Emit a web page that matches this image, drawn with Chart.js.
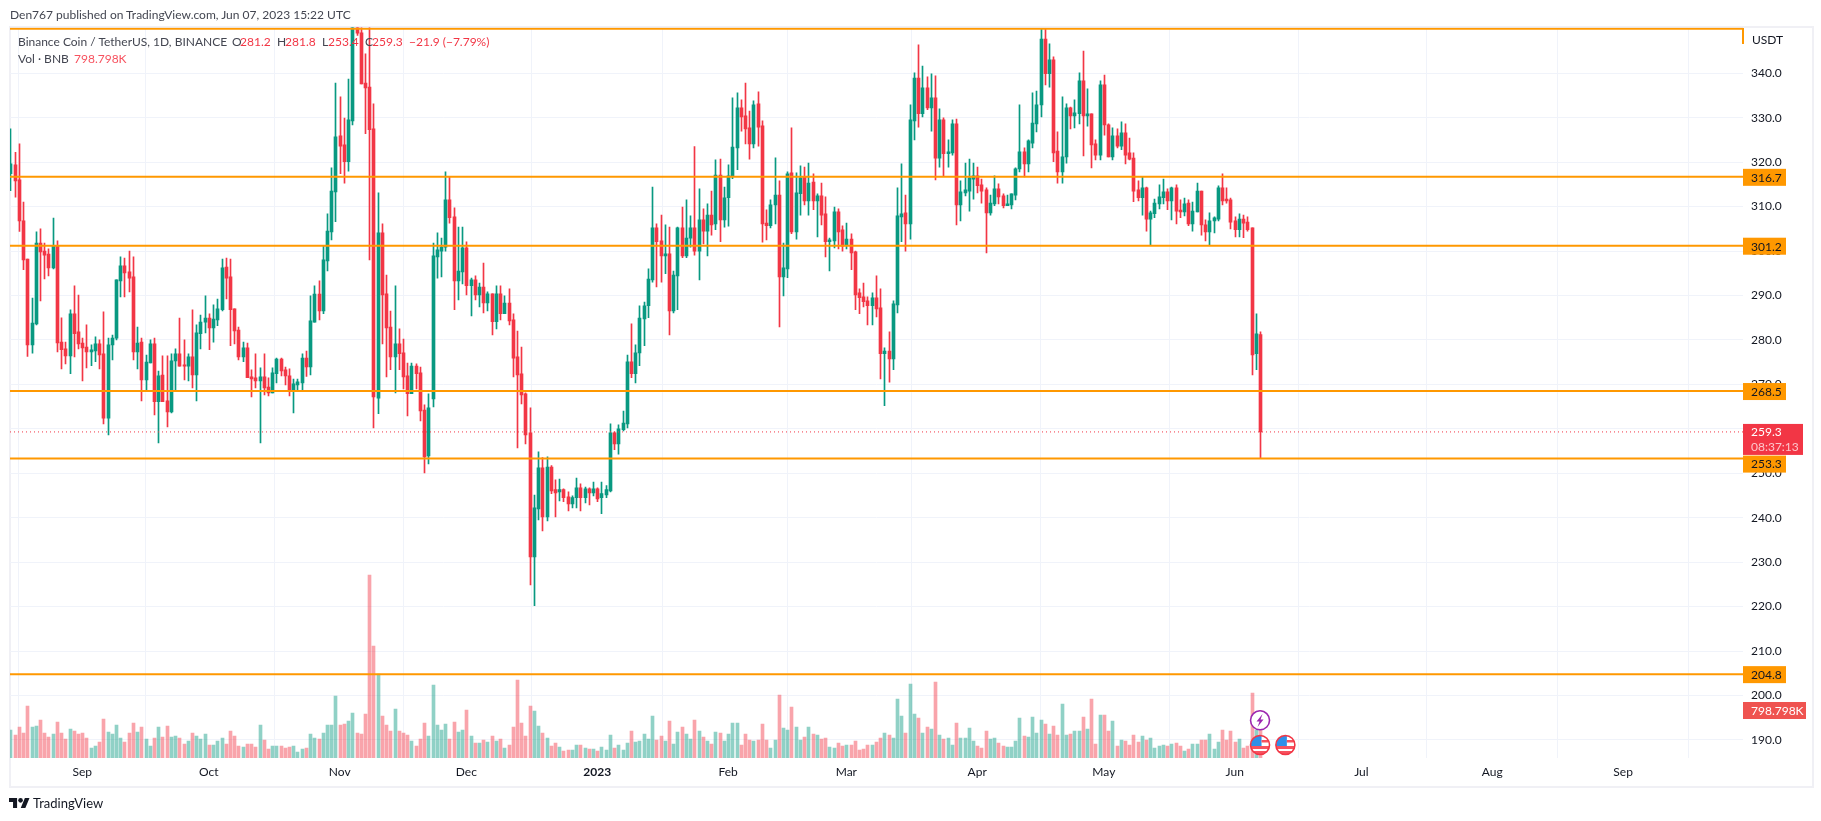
<!DOCTYPE html>
<html><head><meta charset="utf-8">
<script src="https://cdn.jsdelivr.net/npm/chart.js@4/dist/chart.umd.min.js"></script>
<style>
html,body{margin:0;padding:0;background:#fff;overflow:hidden;width:1821px;height:821px}
#c{position:absolute;left:0;top:0}
#frame{position:absolute;left:9px;top:26px;width:1801px;height:758px;border:2px solid #f0f0f5}
.t{position:absolute;white-space:pre;font-family:"Lato","Noto Sans",sans-serif;font-size:12px;line-height:16px;color:#434651}
.r{color:#F23645}
</style></head><body>
<div id="frame"></div>
<canvas id="c" width="1821" height="821"></canvas>
<div class="t" style="left:10px;top:7px">Den767 published on TradingView.com, Jun 07, 2023 15:22 UTC</div>
<div class="t" style="left:18px;top:34px">Binance Coin / TetherUS, 1D, BINANCE</div>
<div class="t" style="left:232px;top:34px">O</div><div class="t r" style="left:240px;top:34px">281.2</div>
<div class="t" style="left:277px;top:34px">H</div><div class="t r" style="left:285px;top:34px">281.8</div>
<div class="t" style="left:322px;top:34px">L</div><div class="t r" style="left:328px;top:34px">253.4</div>
<div class="t" style="left:365px;top:34px">C</div><div class="t r" style="left:372px;top:34px">259.3</div>
<div class="t r" style="left:409px;top:34px">−21.9 (−7.79%)</div>
<div class="t" style="left:18px;top:51px">Vol · BNB</div><div class="t" style="left:74px;top:51px;color:#F7525F">798.798K</div>
<div class="t" style="left:1752px;top:32px;color:#131722">USDT</div>
<svg style="position:absolute;left:9px;top:797.5px" width="20.5" height="10.5" viewBox="0 4 35.5 18"><path fill="#131722" d="M14 22H7V11H0V4h14v18zM28 22h-8l7.5-18h8L28 22z"/><circle fill="#131722" cx="20" cy="8" r="4"/></svg>
<div class="t" style="left:33px;top:795px;font-size:13px;color:#131722">TradingView</div>
<script>
const monthLabels=['Sep','Oct','Nov','Dec','2023','Feb','Mar','Apr','May','Jun','Jul','Aug','Sep'];
const monthIndex=[17,47,78,108,139,170,198,229,259,290,320,351,382];
const levels=[350,316.7,301.2,268.5,253.3,204.8];
const labelledLevels=[316.7,301.2,268.5,253.3,204.8];
const lastPrice=259.3;
const lastVolume=798.798;
const opens=[317.4,319.4,316.0,306.8,298.2,278.9,283.6,301.8,300.0,299.3,
296.2,301.2,279.5,278.0,276.4,285.9,281.8,279.3,278.4,277.3,
277.5,279.1,276.9,262.4,278.9,280.4,293.3,296.7,295.3,294.2,
277.3,279.5,271.0,274.8,279.1,266.1,272.1,266.3,263.8,275.3,
276.9,274.4,274.1,276.2,272.1,281.4,284.0,284.9,282.7,284.5,
286.8,296.4,294.2,287.0,282.2,276.2,278.2,271.7,271.5,270.8,
271.7,269.4,268.1,272.4,275.7,273.3,271.9,268.8,269.9,270.3,
275.9,273.9,284.0,290.3,286.5,297.8,304.3,313.3,325.9,323.9,
320.1,329.3,351.5,349.1,337.8,336.9,327.5,266.9,304.1,290.4,
282.9,276.2,279.1,277.1,271.9,267.9,274.1,272.6,264.2,253.9,
266.7,298.7,300.0,300.9,311.5,307.7,293.3,295.3,300.7,292.2,
293.5,290.1,291.9,288.3,290.4,284.1,290.4,285.9,288.3,284.5,
276.2,272.4,267.9,259.1,231.2,242.0,251.2,240.2,251.4,246.3,
245.8,246.3,244.7,243.1,244.5,246.7,244.5,246.5,245.6,246.5,
244.5,245.1,246.0,259.1,256.6,259.8,261.1,275.1,272.4,277.1,
284.7,287.7,293.5,305.2,302.3,298.9,299.4,286.5,294.4,305.2,
298.9,302.9,305.2,300.0,307.0,304.5,308.1,306.1,317.1,307.0,
312.0,316.8,323.2,332.2,330.4,327.7,324.1,333.1,328.2,306.3,
305.7,310.4,312.6,294.2,296.0,317.6,304.3,312.9,316.7,311.3,
315.5,311.3,312.4,308.4,302.1,302.3,308.8,304.8,301.4,302.7,
299.8,290.6,289.7,288.8,287.7,289.5,287.2,276.9,277.5,275.7,
287.9,307.7,308.6,306.1,329.3,338.9,330.9,336.7,332.2,334.5,
320.9,329.5,321.9,322.1,328.6,310.4,313.1,313.5,316.2,316.9,
314.9,313.8,308.6,310.6,314.0,312.4,310.2,310.4,312.6,318.5,
322.3,319.6,324.3,328.6,332.9,347.7,339.9,343.0,322.5,317.8,
321.2,332.2,330.4,330.9,338.3,330.4,330.9,324.1,321.6,337.4,
328.4,321.2,325.9,323.6,326.6,322.1,320.9,313.8,312.0,314.2,
307.2,308.4,310.6,312.0,313.3,311.3,314.2,309.2,308.8,310.8,
306.1,308.8,313.5,305.9,304.3,306.8,307.2,314.2,311.7,311.5,
306.8,304.8,307.2,306.5,305.2,276.9,281.2];
const highs=[327.5,322.2,324.1,311.0,298.2,289.4,304.3,305.0,301.8,300.5,
307.4,302.3,285.0,279.5,286.8,292.2,290.1,280.4,283.4,278.9,
280.7,280.0,286.3,280.4,281.1,293.5,298.7,298.4,300.0,298.7,
282.9,280.4,276.6,280.0,280.4,273.0,276.4,276.4,276.9,278.0,
284.9,280.0,276.9,286.8,283.4,285.6,289.9,285.9,287.9,289.2,
298.2,298.4,298.2,287.0,282.9,279.5,279.3,273.3,276.9,273.7,
276.9,271.5,273.7,275.9,275.9,273.9,273.5,271.2,271.2,276.9,
277.5,289.9,292.2,293.3,301.2,308.4,318.7,337.8,334.7,329.9,
338.7,355.0,354.0,352.0,344.4,352.0,333.1,313.1,306.1,294.6,
286.5,292.2,282.5,280.2,274.8,274.8,274.6,273.9,265.4,267.9,
301.8,304.1,302.9,317.8,316.7,309.7,305.4,305.4,302.1,293.9,
294.4,292.8,297.3,290.8,290.4,292.2,292.2,289.9,291.5,285.9,
282.0,278.4,268.1,264.7,245.1,254.8,253.5,253.7,251.7,248.5,
248.7,246.5,245.8,244.9,248.9,247.6,246.9,246.7,248.0,246.7,
248.0,247.2,261.1,259.3,260.9,264.0,276.6,283.6,278.9,287.7,
288.5,296.0,314.4,306.1,308.1,305.9,305.4,295.5,305.4,309.9,
311.5,307.9,323.5,314.0,309.5,310.6,313.5,320.5,320.7,314.4,
319.4,334.5,335.6,334.0,337.8,331.5,333.8,335.8,329.3,309.3,
311.5,321.0,315.8,301.8,317.8,327.7,317.6,319.2,318.9,319.8,
317.4,312.9,315.3,312.2,302.9,309.9,309.5,305.7,306.3,303.9,
300.0,291.5,292.8,289.7,290.6,294.4,291.5,278.2,281.8,288.8,
314.2,319.6,312.6,332.9,340.1,346.4,341.6,339.2,339.9,339.4,
332.0,330.0,325.0,329.5,329.7,315.8,319.8,320.7,319.8,318.9,
316.2,314.2,312.6,316.9,315.1,312.9,312.6,312.9,318.7,332.9,
323.2,325.0,335.6,336.0,350.0,350.0,346.6,343.7,326.8,334.7,
333.1,332.4,334.0,340.1,345.0,336.5,330.9,325.0,338.3,339.6,
328.6,327.7,327.5,329.1,328.6,325.4,322.1,315.8,316.7,314.4,
309.0,311.7,314.9,316.2,314.0,314.4,314.9,311.5,311.9,311.5,
311.0,315.3,313.5,307.0,308.6,307.7,314.7,317.4,314.2,311.9,
307.7,308.4,308.1,307.7,305.2,285.9,281.8];
const lows=[313.6,312.1,304.4,295.8,276.3,277.0,283.4,288.8,293.7,294.4,
296.0,277.3,273.5,274.6,272.4,276.2,278.0,270.8,273.7,274.2,
275.1,273.5,261.1,258.6,275.5,280.0,289.7,289.7,290.8,275.5,
273.5,266.3,268.5,274.8,263.1,256.8,266.1,260.4,263.6,268.4,
274.1,271.0,270.8,269.2,266.3,278.0,281.6,277.8,279.5,283.2,
286.5,289.2,278.7,279.1,275.5,275.1,271.5,267.2,269.2,256.8,
267.6,267.4,268.1,270.3,271.9,269.9,267.4,263.6,268.8,268.8,
271.8,272.1,284.0,284.5,285.9,295.5,302.5,306.6,317.4,315.3,
318.0,328.4,348.5,337.6,326.4,298.0,260.2,263.4,279.1,271.7,
273.3,268.1,273.3,269.0,262.9,267.9,269.0,261.8,250.1,252.1,
264.9,293.9,294.2,300.0,306.3,286.8,289.0,292.6,290.1,285.4,
289.0,287.4,286.1,286.5,281.1,282.5,284.5,285.9,283.4,271.7,
255.7,265.6,256.6,224.9,220.2,239.5,237.0,239.3,245.4,240.2,
243.8,243.6,241.5,242.2,242.2,241.5,243.3,242.9,244.9,243.6,
240.9,244.5,245.8,255.3,254.3,259.5,260.2,271.5,270.3,274.2,
278.7,285.0,293.0,291.9,293.0,294.9,281.1,286.1,286.8,298.5,
298.5,300.9,299.1,293.5,301.6,298.9,303.6,304.8,302.1,305.4,
305.6,316.3,318.3,327.0,324.1,320.7,323.2,323.6,302.0,302.5,
305.2,306.1,282.9,289.9,294.0,303.9,302.7,308.1,310.4,308.1,
309.3,303.2,305.9,298.7,295.5,300.7,300.5,300.0,300.5,295.8,
286.8,285.9,287.4,283.4,283.4,285.2,271.2,265.2,270.5,273.3,
286.1,302.1,300.0,302.7,325.0,327.9,330.2,331.8,327.0,316.0,
318.9,316.9,318.9,321.6,305.9,306.8,312.4,309.0,311.7,313.1,
310.8,299.6,308.1,310.2,310.6,309.7,310.2,309.5,311.5,317.8,
316.7,317.8,323.2,326.8,330.2,337.4,336.9,320.1,315.3,315.3,
319.8,327.5,327.7,328.6,321.4,328.1,318.7,320.5,320.5,326.1,
321.2,320.5,323.2,322.8,319.6,320.5,311.1,311.3,308.1,304.5,
301.2,307.5,309.5,310.6,309.3,307.0,306.1,307.5,307.9,305.7,
304.5,308.8,303.6,302.3,301.4,304.1,306.8,310.4,310.8,305.0,
303.2,303.2,303.0,304.5,272.1,273.3,253.4];
const closes=[319.6,315.8,306.8,298.0,278.9,283.8,301.8,299.8,299.1,296.2,
301.2,279.3,277.8,276.4,285.9,281.4,279.1,278.2,277.3,277.8,
279.1,276.6,262.4,278.9,280.4,293.5,296.7,295.1,293.9,277.3,
279.3,271.0,275.0,279.1,266.1,271.9,266.1,263.8,275.3,276.9,
274.1,274.1,276.2,272.1,281.6,284.0,284.9,282.7,284.7,287.0,
296.2,293.9,286.8,282.0,276.2,278.2,271.5,271.2,270.8,271.7,
269.2,268.1,272.6,275.7,273.0,271.9,268.8,270.1,270.6,275.9,
273.9,284.3,290.3,286.5,298.0,304.5,313.5,325.7,323.6,320.1,
329.5,351.5,349.0,337.6,336.7,327.3,267.2,304.1,290.1,282.7,
276.2,279.1,276.9,271.7,267.9,274.1,272.4,264.0,253.7,264.7,
298.9,300.3,300.9,311.5,307.5,293.3,295.5,300.7,292.2,293.5,
290.1,291.9,288.3,290.4,284.1,290.4,285.9,288.3,284.3,275.9,
272.1,267.6,258.6,231.2,242.2,251.2,240.2,251.4,246.0,245.6,
246.3,244.5,243.1,244.5,246.7,244.5,246.5,245.6,246.5,244.2,
245.4,246.3,259.1,256.6,260.0,261.3,275.1,272.4,277.1,284.9,
287.7,293.7,305.2,302.1,298.9,299.4,286.5,294.6,305.2,298.9,
302.9,305.2,300.0,307.0,304.5,308.1,305.9,317.1,307.0,312.0,
316.9,323.4,332.2,330.2,327.5,324.1,332.9,327.9,306.1,305.7,
310.4,312.6,294.2,296.2,317.4,304.3,313.1,316.5,311.3,315.3,
311.3,312.4,308.1,302.1,302.5,308.8,304.3,301.1,302.7,299.6,
290.1,289.5,288.6,287.7,289.5,287.0,276.9,277.5,275.7,288.1,
307.9,308.4,306.1,329.5,338.9,330.9,336.7,332.2,334.5,320.9,
329.5,321.9,322.3,328.6,310.4,313.3,313.8,316.5,316.9,314.7,
313.5,308.6,310.8,314.0,312.2,310.2,310.6,312.9,318.5,322.3,
319.6,324.8,328.8,332.9,347.7,339.9,343.0,322.1,317.8,321.2,
332.2,330.4,331.1,338.3,330.4,330.9,323.9,321.6,337.4,328.4,
321.2,325.9,323.6,326.6,321.6,320.7,313.5,312.0,314.2,307.2,
308.6,310.8,312.2,313.3,311.3,314.2,309.0,308.8,310.6,306.1,
309.0,313.5,305.9,304.3,306.8,307.5,314.2,311.3,311.3,306.5,
304.8,307.2,306.3,304.8,276.6,281.4,259.3];
const volumes=[471,387,521,421,875,521,538,639,421,353,
404,606,421,320,488,454,404,421,336,168,
202,269,656,437,404,555,336,269,421,589,
437,521,320,202,336,521,353,538,353,370,
336,235,286,421,370,320,404,219,219,286,
336,235,454,370,202,185,235,235,185,555,
303,151,202,202,202,168,185,202,101,151,
168,404,336,320,421,555,555,1043,555,572,
622,757,421,404,740,3078,1884,1413,706,555,
454,824,454,421,387,286,202,320,589,370,
1228,555,471,572,320,606,437,471,807,370,
252,252,303,269,370,286,320,168,219,521,
1312,589,370,875,791,538,421,336,202,252,
185,118,135,135,219,219,168,151,151,118,
185,135,387,168,219,135,252,454,269,286,
404,320,706,303,370,286,622,235,437,521,
404,320,639,454,353,286,235,437,421,286,
404,589,589,219,404,303,286,303,572,303,
168,303,1060,505,471,858,521,303,353,521,
404,387,320,336,185,168,252,202,219,219,
286,135,151,219,219,269,336,421,387,336,
992,706,421,1245,740,673,421,521,488,1278,
387,320,336,219,589,336,336,505,286,202,
168,454,320,336,252,202,185,185,286,673,
370,353,690,421,639,572,404,538,387,908,
387,404,454,454,690,488,992,235,723,723,
454,622,202,303,286,219,387,269,370,303,
336,168,202,219,202,235,252,202,118,151,
235,235,303,303,404,151,269,471,303,454,
269,320,168,202,1093,471,798.798];

const GREEN='#089981',RED='#F23645',ORANGE='#FF9800',GRID='#f0f3fa';
const FONT='"Lato","Noto Sans",sans-serif';
const days=opens.map((_,i)=>i);
const isUp=i=>closes[i]>=opens[i];
const candleColors=days.map(i=>isUp(i)?GREEN:RED);
const volColors=days.map(i=>isUp(i)?'rgba(8,153,129,0.45)':'rgba(242,54,69,0.45)');
const X_MIN=-0.1,X_MAX=410.4;

// keep bars on whole device pixels so they stay crisp
const crispBars={id:'crispBars',beforeDatasetDraw(chart,args){
  if(args.meta.type!=='bar')return;
  args.meta.data.forEach(el=>{el.x=Math.round(el.x)+0.5;});
}};

const overlay={id:'overlay',afterDraw(chart){
  const ctx=chart.ctx,y=chart.scales.y,yv=chart.scales.yv,x=chart.scales.x,R=chart.chartArea.right;
  ctx.save();
  ctx.fillStyle=ORANGE;ctx.fillRect(R-1,28,2,16);
  ctx.textBaseline='middle';ctx.textAlign='left';ctx.font='12px '+FONT;
  const box=(cy,w,h,bg,fg,txt)=>{ctx.fillStyle=bg;ctx.fillRect(R,cy-h/2,w,h);ctx.fillStyle=fg;ctx.fillText(txt,R+8,cy+0.5);};
  const p=y.getPixelForValue(lastPrice);
  ctx.fillStyle=RED;ctx.fillRect(R,p-8,60,31);
  ctx.fillStyle='#fff';ctx.fillText(lastPrice.toFixed(1),R+8,p);
  ctx.fillStyle='#fcc5ca';ctx.fillText('08:37:13',R+8,p+15);
  labelledLevels.forEach(v=>{
    const cy=y.getPixelForValue(v)+(v===253.3?5.5:0.5);
    box(cy,43,17,ORANGE,'#131722',v.toFixed(1));
  });
  box(yv.getPixelForValue(lastVolume),63,17,'#EF5350','#fff',lastVolume+'K');
  // event markers
  const flag=cx=>{const cy=745,r=9.5;
    ctx.save();ctx.beginPath();ctx.arc(cx,cy,r,0,7);ctx.fillStyle='#fff';ctx.fill();ctx.clip();
    ctx.fillStyle='#f7525f';ctx.fillRect(cx-r,cy+1,2*r,3);ctx.fillRect(cx-r,cy+6,2*r,4);
    ctx.fillStyle='#2f8fe8';ctx.fillRect(cx-r,cy-r,r+1.5,r+1);
    ctx.fillStyle='#f7525f';ctx.fillRect(cx+1.5,cy-5,r,2.5);
    ctx.restore();
    ctx.beginPath();ctx.arc(cx,cy,r,0,7);ctx.strokeStyle=RED;ctx.lineWidth=1.6;ctx.stroke();};
  const ex=x.getPixelForValue(296);
  flag(ex);flag(x.getPixelForValue(302));
  ctx.beginPath();ctx.arc(ex,720.3,9.5,0,7);ctx.fillStyle='#fff';ctx.fill();ctx.strokeStyle='#9C27B0';ctx.lineWidth=1.6;ctx.stroke();
  ctx.fillStyle='#9C27B0';ctx.beginPath();
  ctx.moveTo(ex+2.5,714);ctx.lineTo(ex-3.5,721.5);ctx.lineTo(ex-0.5,721.5);ctx.lineTo(ex-2.5,727);ctx.lineTo(ex+3.5,719.5);ctx.lineTo(ex+0.5,719.5);ctx.closePath();ctx.fill();
  ctx.restore();
}};

new Chart(document.getElementById('c'),{
  type:'bar',
  plugins:[crispBars,overlay],
  data:{datasets:[
    ...levels.map(v=>({type:'line',order:1,data:[{x:X_MIN,y:v},{x:X_MAX,y:v}],borderColor:ORANGE,borderWidth:2,pointRadius:0,yAxisID:'y'})),
    {type:'line',order:2,data:[{x:X_MIN,y:lastPrice},{x:X_MAX,y:lastPrice}],borderColor:RED,borderWidth:1,borderDash:[1,3],pointRadius:0,yAxisID:'y'},
    {order:3,grouped:false,barThickness:3,data:days.map(i=>({x:i,y:[opens[i],closes[i]]})),backgroundColor:candleColors,yAxisID:'y'},
    {order:4,grouped:false,barThickness:1,data:days.map(i=>({x:i,y:[lows[i],highs[i]]})),backgroundColor:candleColors,yAxisID:'y'},
    {order:5,grouped:false,barThickness:3,data:days.map(i=>({x:i,y:volumes[i]})),backgroundColor:volColors,yAxisID:'yv'}
  ]},
  options:{
    responsive:false,animation:false,devicePixelRatio:1,
    layout:{padding:{left:10,top:27.5,right:10,bottom:36}},
    plugins:{legend:{display:false},tooltip:{enabled:false}},
    scales:{
      x:{type:'linear',min:X_MIN,max:X_MAX,offset:false,
        afterBuildTicks(s){s.ticks=monthIndex.map(v=>({value:v}));},
        afterFit(s){s.height=27;},
        grid:{color:GRID,drawTicks:false},border:{display:false},
        ticks:{autoSkip:false,maxRotation:0,padding:7,color:'#131722',
          font:c=>({family:FONT,size:12,weight:c.tick&&c.tick.value===139?'bold':'normal'}),
          callback:v=>monthLabels[monthIndex.indexOf(v)]}},
      y:{position:'right',min:185.93,max:350.3,
        afterFit(s){s.width=68;},
        grid:{color:GRID,drawTicks:false},border:{display:false},
        ticks:{stepSize:10,includeBounds:false,padding:8,color:'#131722',font:{family:FONT,size:12},
          callback:v=>v>340?'':v.toFixed(1)}},
      yv:{display:false,position:'right',min:0,max:12285,grid:{display:false}}
    }
  }
});
</script>
</body></html>
